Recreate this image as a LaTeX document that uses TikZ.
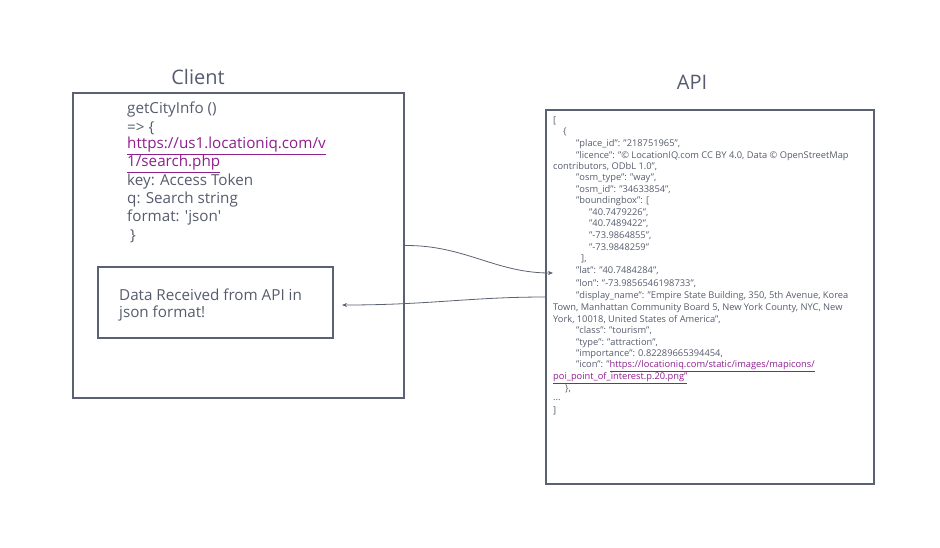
\documentclass[tikz,border=0pt]{standalone}
\usepackage{fontspec}
\setmainfont{Open Sans}
\usetikzlibrary{arrows.meta}
\definecolor{ink}{HTML}{565C6E}
\definecolor{frame}{HTML}{5B6172}
\definecolor{link}{HTML}{8E1F8E}
\tikzset{
  box/.style={draw=frame, line width=1.6pt},
  title/.style={text=ink, font=\fontsize{20}{24}\selectfont},
  ctext/.style={anchor=west, text=ink, font=\fontsize{15.2}{17}\selectfont, inner sep=0pt},
  jtext/.style={anchor=west, text=ink, font=\fontsize{9.3}{10}\selectfont, inner sep=0pt},
  conn/.style={draw=frame, line width=0.8pt, -{Stealth[length=5pt,width=4pt]}},
  lnk/.style={text=link}
}
\newcommand{\ul}[1]{\underline{#1}}
\begin{document}
\begin{tikzpicture}[x=1pt,y=-1pt]
\useasboundingbox (0,0) rectangle (940,547);
% titles
\node[title] (tclient) at (198,77) {Client};
\node[title] (tapi) at (692,82) {API};
% boxes
\node[box, minimum width=331pt, minimum height=305pt, inner sep=0pt] (client) at (238.5,245.5) {};
\node[box, minimum width=235pt, minimum height=71pt, inner sep=0pt] (inner) at (215.5,302.5) {};
\node[box, minimum width=328pt, minimum height=374pt, inner sep=0pt] (api) at (710,297) {};
% client text
\node[ctext] (c1) at (127,110) {getCityInfo ()};
\node[ctext] (c2) at (127,128) {=> \{};
\node[ctext, lnk] (c3) at (127,146) {\ul{https://us1.locationiq.com/v}};
\node[ctext, lnk] (c4) at (127,164) {\ul{1/search.php}};
\node[ctext] (c5) at (127,182) {key: Access Token};
\node[ctext] (c6) at (127,200) {q: Search string};
\node[ctext] (c7) at (127,218) {format: \textquotesingle json\textquotesingle};
\node[ctext] (c8) at (130,236) {\}};
\node[ctext] (d1) at (119,295) {Data Received from API in};
\node[ctext] (d2) at (119,314) {json format!};
% json text
\node[jtext] (j1) at (553,121) {[};
\node[jtext] (j2) at (563,132) {\{};
\node[jtext] (j3) at (576,144) {"place\_id": "218751965",};
\node[jtext] (j4) at (576,156) {"licence": "© LocationIQ.com CC BY 4.0, Data © OpenStreetMap};
\node[jtext] (j5) at (553,167) {contributors, ODbL 1.0",};
\node[jtext] (j6) at (576,178) {"osm\_type": "way",};
\node[jtext] (j7) at (576,190) {"osm\_id": "34633854",};
\node[jtext] (j8) at (576,201) {"boundingbox": [};
\node[jtext] (j9) at (589,213) {"40.7479226",};
\node[jtext] (j10) at (589,224) {"40.7489422",};
\node[jtext] (j11) at (589,236) {"-73.9864855",};
\node[jtext] (j12) at (589,247) {"-73.9848259"};
\node[jtext] (j13) at (581,259) {],};
\node[jtext] (j14) at (576,271) {"lat": "40.7484284",};
\node[jtext] (j15) at (576,284) {"lon": "-73.9856546198733",};
\node[jtext] (j16) at (576,296) {"display\_name": "Empire State Building, 350, 5th Avenue, Korea};
\node[jtext] (j17) at (553,308) {Town, Manhattan Community Board 5, New York County, NYC, New};
\node[jtext] (j18) at (553,320) {York, 10018, United States of America",};
\node[jtext] (j19) at (576,331) {"class": "tourism",};
\node[jtext] (j20) at (576,343) {"type": "attraction",};
\node[jtext] (j21) at (576,354) {"importance": 0.82289665394454,};
\node[jtext] (j22) at (576,366) {"icon": "\textcolor{link}{\ul{https://locationiq.com/static/images/mapicons/}}};
\node[jtext, lnk] (j23) at (553,378) {\ul{poi\_point\_of\_interest.p.20.png"}};
\node[jtext] (j24) at (565,389) {\},};
\node[jtext] (j25) at (553,400) {...};
\node[jtext] (j26) at (553,411) {]};
% connectors
\coordinate (a1e) at (553,273);
\coordinate (a2e) at (342,305);
\draw[conn] (client.east) .. controls (465,245) and (495,273) .. (a1e);
\draw[conn] (api.west) .. controls (470,297) and (430,305) .. (a2e);
\end{tikzpicture}
\end{document}
